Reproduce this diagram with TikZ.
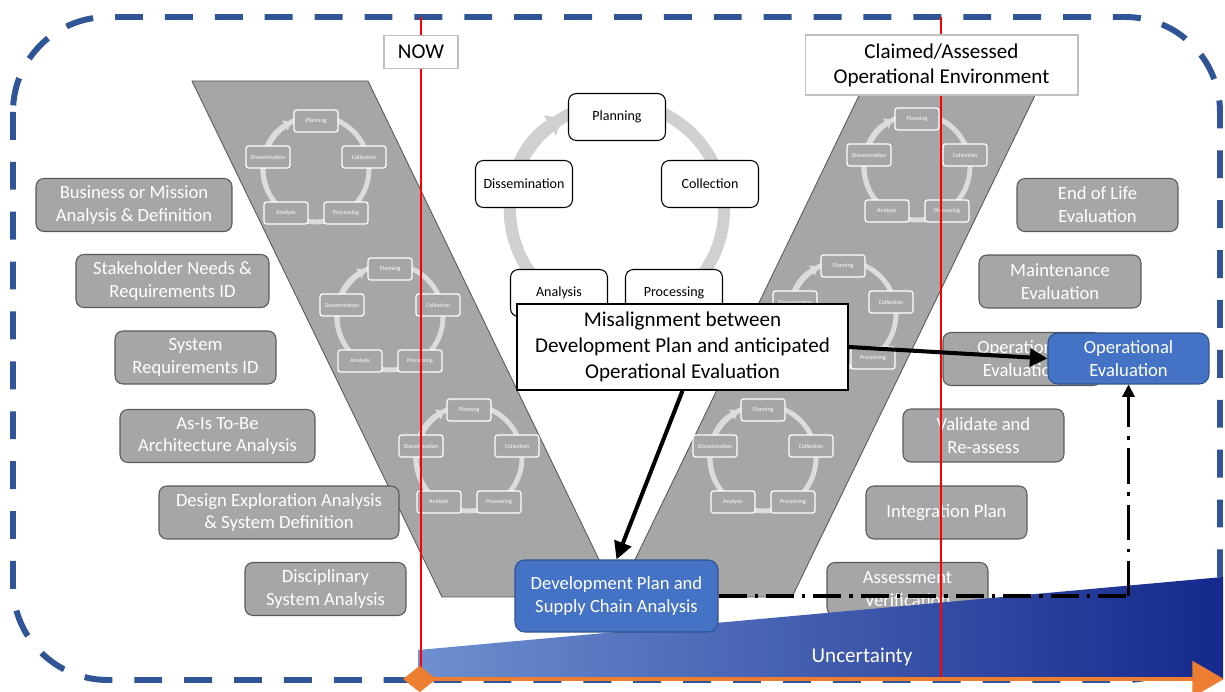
\documentclass[tikz,border=0pt]{standalone}
\usepackage{fontspec}
\setmainfont{Carlito}
\usetikzlibrary{arrows.meta}

\definecolor{vgray}{HTML}{A6A6A6}
\definecolor{boxedge}{HTML}{595959}
\definecolor{miniring}{HTML}{DCDCDC}
\definecolor{bigring}{HTML}{D0D0D0}
\definecolor{frameblue}{HTML}{2F5597}
\definecolor{boxblue}{HTML}{4472C4}
\definecolor{blueedge}{HTML}{2F528F}
\definecolor{wedgelight}{HTML}{6E8FD0}
\definecolor{wedgedark}{HTML}{14298C}
\definecolor{arroworange}{HTML}{ED7D31}
\definecolor{taggray}{HTML}{BFBFBF}

\begin{document}
\begin{tikzpicture}[x=0.02cm,y=-0.02cm,
    frame/.style={draw=frameblue,line width=3.4pt,dash pattern=on 15.9pt off 12.5pt,rounded corners=54pt},
    varm/.style={draw=boxedge,line width=0.5pt,fill=vgray},
    stage/.style={rectangle,rounded corners=4.5pt,draw=boxedge,line width=0.6pt,fill=vgray,text=white,
                  align=center,font=\fontsize{10.6}{13}\selectfont,minimum height=1.06cm,inner sep=2pt},
    plan/.style={stage,draw=blueedge,fill=boxblue,rounded corners=5.5pt},
    tag/.style={rectangle,draw=taggray,line width=0.6pt,fill=white,align=center,font=\fontsize{12}{14.2}\selectfont},
    phase/.style={rectangle,rounded corners=4.5pt,draw=black,line width=0.6pt,fill=white,
                  font=\fontsize{8}{9.6}\selectfont,minimum width=1.94cm,minimum height=0.94cm},
    mini/.style={rectangle,rounded corners=1.5pt,draw=white,line width=0.7pt,fill=vgray,text=white,
                 font=\fontsize{3.4}{4}\selectfont,minimum width=0.88cm,minimum height=0.44cm,inner sep=0pt},
    mini ring/.style={draw=miniring,line width=2.8pt},
    big ring/.style={draw=bigring,line width=6.8pt},
    marker/.style={draw=red,line width=1.2pt},
    link/.style={draw=black,line width=2.3pt,-{Triangle[length=10pt,width=10pt]}},
    trace/.style={draw=black,line width=2.2pt,dash pattern=on 16pt off 4.5pt on 2pt off 4.5pt},
    trace up/.style={draw=black,line width=1.2pt,dash pattern=on 20pt off 5pt on 2pt off 5pt,
                     -{Triangle[length=7pt,width=7pt]}}]
  \useasboundingbox (0,0) rectangle (1225,692);

  % dashed frame
  \draw[frame] (13,17) rectangle (1220,680);

  % the V
  \draw[varm] (192,81) -- (368,81) -- (617,597) -- (866,81) -- (1042,81) -- (792,597) -- (442,597) -- cycle;

  % small cycles on the V
  \foreach \cx/\cy/\cn in {316/121/a,390/269/b,469/410/c,917/119/d,843/266/e,763/410/f}{
    \draw[mini ring] (\cx,\cy+48) circle[radius=53];
    \draw[mini ring,-{Triangle[length=4pt,width=6.5pt]}] (\cx,\cy+48) ++(-205:53)
      arc[start angle=-205,end angle=-118,radius=53];
    \node[mini] (\cn1) at (\cx,\cy) {Planning};
    \node[mini] (\cn2) at (\cx+48,\cy+36) {Collection};
    \node[mini] (\cn3) at (\cx+30,\cy+92) {Processing};
    \node[mini] (\cn4) at (\cx-30,\cy+92) {Analysis};
    \node[mini] (\cn5) at (\cx-48,\cy+36) {Dissemination};
  }

  % big cycle
  \draw[big ring] (617,210) circle[radius=107];
  \draw[big ring,-{Triangle[length=8pt,width=13pt]}] (617,210) ++(-205:107)
    arc[start angle=-205,end angle=-121,radius=107];
  \node[phase] (plan) at (617,117) {Planning};
  \node[phase] (coll) at (710,184) {Collection};
  \node[phase] (proc) at (674,293) {Processing};
  \node[phase] (anal) at (559,293) {Analysis};
  \node[phase] (diss) at (524,184) {Dissemination};

  % left side stages
  \node[stage,minimum width=3.92cm] (l1) at (134,205) {Business or Mission\\Analysis \& Definition};
  \node[stage,minimum width=3.86cm] (l2) at (172.5,281) {Stakeholder Needs \&\\Requirements ID};
  \node[stage,minimum width=3.22cm] (l3) at (195.5,357.5) {System\\Requirements ID};
  \node[stage,minimum width=3.9cm] (l4) at (217.5,436) {As-Is To-Be\\Architecture Analysis};
  \node[stage,minimum width=4.8cm] (l5) at (279,512.5) {Design Exploration Analysis\\\& System Definition};
  \node[stage,minimum width=3.22cm] (l6) at (325.5,589) {Disciplinary\\System Analysis};

  % right side stages
  \node[stage,minimum width=3.22cm] (r1) at (1097.5,205) {End of Life\\Evaluation};
  \node[stage,minimum width=3.24cm] (r2) at (1060,281.5) {Maintenance\\Evaluation};
  \node[stage,minimum width=3.16cm] (r3) at (1022,359) {Operational\\Evaluation};
  \node[stage,minimum width=3.22cm] (r4) at (983.5,435.5) {Validate and\\Re-assess};
  \node[stage,minimum width=3.22cm] (r5) at (946.5,512.5) {Integration Plan};
  \node[stage,minimum width=3.22cm] (r6) at (907.5,589) {Assessment\\Verification};

  % uncertainty wedge
  \shade[left color=wedgelight,right color=wedgedark] (418,650) -- (1223,577) -- (1223,679) -- (418,679) -- cycle;
  \node[text=white,font=\fontsize{12}{14}\selectfont] (unc) at (862,657) {Uncertainty};

  % time markers
  \draw[marker] (421,17) -- (421,679);
  \draw[marker] (941,17) -- (941,679);
  \draw[arroworange,line width=2.8pt,{Diamond[length=19pt,width=15pt]}-{Triangle[length=18pt,width=20pt]}]
    (403,679) -- (1224,679);

  \node[tag,minimum width=1.48cm,minimum height=0.66cm] (now) at (421,52) {NOW};
  \node[tag,minimum width=5.46cm,minimum height=1.2cm] (env) at (941.5,65) {Claimed/Assessed\\Operational Environment};

  \node[tag,draw=black,line width=0.9pt,font=\fontsize{12}{14.6}\selectfont,
        minimum width=6.62cm,minimum height=1.72cm] (mis) at (682.5,347)
    {Misalignment between\\Development Plan and anticipated\\Operational Evaluation};

  \node[plan,minimum width=3.22cm,minimum height=1.02cm] (opeval) at (1128.5,358.5) {Operational\\Evaluation};
  \node[plan,minimum width=4.06cm,minimum height=1.44cm] (dev) at (616.5,596) {Development Plan and\\Supply Chain Analysis};

  % connectors
  \draw[link] (mis.east) -- (opeval.west);
  \draw[link] (mis.south) -- (dev.north);
  \coordinate (bend) at (opeval.south |- dev.east);
  \draw[trace] (dev.east) -- (bend);
  \draw[trace up] (bend) -- (opeval.south);
\end{tikzpicture}
\end{document}
